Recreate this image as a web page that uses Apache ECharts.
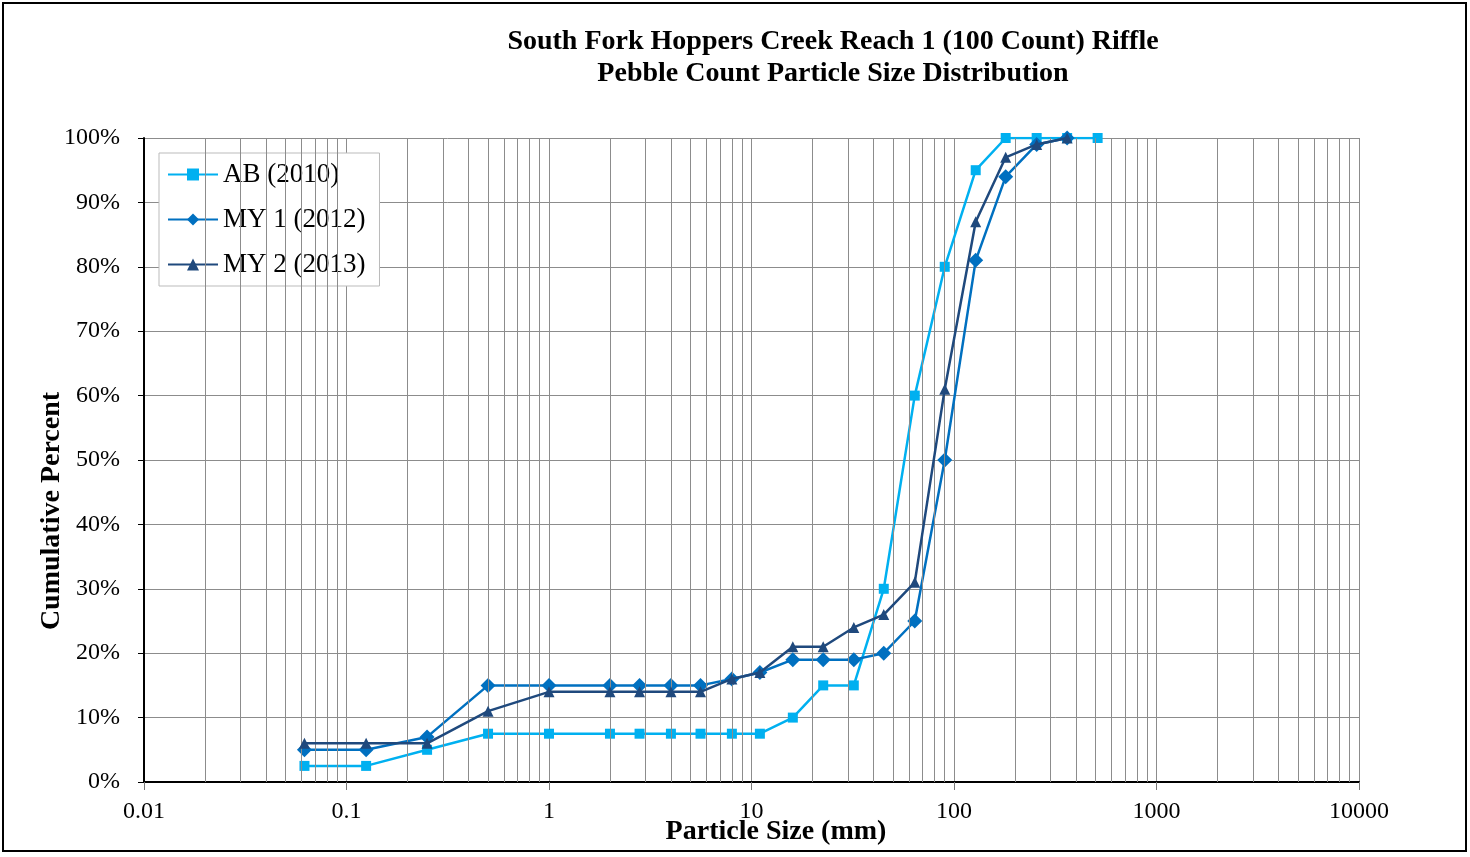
<!DOCTYPE html>
<html>
<head>
<meta charset="utf-8">
<script src="https://cdn.jsdelivr.net/npm/echarts@6/dist/echarts.min.js"></script>
<style>
  html, body { margin: 0; padding: 0; background: #fff; }
  #chart { width: 1470px; height: 857px; }
</style>
</head>
<body>
<div id="chart"></div>
<script>
// particle sizes (mm) and cumulative percents
var sizesAB = [0.062, 0.125, 0.25, 0.5, 1, 2, 2.8, 4, 5.6, 8, 11, 16, 22.6, 32, 45, 64, 90, 128, 180, 256, 362, 512];
var valsAB  = [2.5, 2.5, 5, 7.5, 7.5, 7.5, 7.5, 7.5, 7.5, 7.5, 7.5, 10, 15, 15, 30, 60, 80, 95, 100, 100, 100, 100];

var sizesMY = [0.062, 0.125, 0.25, 0.5, 1, 2, 2.8, 4, 5.6, 8, 11, 16, 22.6, 32, 45, 64, 90, 128, 180, 256, 362];
var valsMY1 = [5, 5, 7, 15, 15, 15, 15, 15, 15, 16, 17, 19, 19, 19, 20, 25, 50, 81, 94, 99, 100];
var valsMY2 = [6, 6, 6, 11, 14, 14, 14, 14, 14, 16, 17, 21, 21, 24, 26, 31, 61, 87, 97, 99, 100];

var xTickLabels = ['0.01', '0.1', '1', '10', '100', '1000', '10000'];

function pairs(xs, ys) {
    return xs.map(function (x, i) { return [x, ys[i]]; });
}

// minor grid lines 2..9 per decade
var minorLines = [];
for (var d = -2; d < 4; d++) {
    for (var m = 2; m < 10; m++) {
        minorLines.push({ xAxis: m * Math.pow(10, d) });
    }
}

var chart = echarts.init(document.getElementById('chart'));
var serif = 'Liberation Serif';

var option = {
    animation: false,
    textStyle: { fontFamily: serif },
    title: {
        text: 'South Fork Hoppers Creek Reach 1 (100 Count) Riffle\nPebble Count Particle Size Distribution',
        left: 828,
        top: 21,
        textAlign: 'center',
        textStyle: { fontFamily: serif, fontSize: 28, fontWeight: 'bold', color: '#000', lineHeight: 32 }
    },
    grid: { left: 144, right: 111, top: 138, bottom: 75 },
    legend: {
        orient: 'vertical',
        left: 159,
        top: 153,
        padding: [8, 14, 8, 8],
        itemGap: 18,
        itemWidth: 50,
        itemHeight: 15,
        borderColor: '#bbb',
        borderWidth: 1,
        backgroundColor: '#fff',
        textStyle: { fontFamily: serif, fontSize: 27, color: '#000' },
        data: ['AB (2010)', 'MY 1 (2012)', 'MY 2 (2013)']
    },
    graphic: [
        { type: 'rect', shape: { x: 3, y: 3, width: 1463, height: 848 }, style: { fill: 'none', stroke: '#000', lineWidth: 2 }, silent: true },
        { type: 'text', x: 52, y: 511, rotation: Math.PI / 2,
          style: { text: 'Cumulative Percent', font: 'bold 28px "Liberation Serif"', fill: '#000', textAlign: 'center', textVerticalAlign: 'middle' } },
        { type: 'text', x: 776, y: 832,
          style: { text: 'Particle Size (mm)', font: 'bold 28px "Liberation Serif"', fill: '#000', textAlign: 'center', textVerticalAlign: 'middle' } }
    ],
    xAxis: {
        type: 'log',
        logBase: 10,
        min: 0.01,
        max: 10000,
        axisLine: { lineStyle: { color: '#000', width: 2 } },
        axisTick: { show: true, length: 8, lineStyle: { color: '#777' } },
        axisLabel: {
            fontFamily: serif, fontSize: 24, color: '#000', margin: 18,
            formatter: function (v) {
                var k = Math.round(Math.log10(v)) + 2;
                return xTickLabels[k] || '';
            }
        },
        splitLine: { show: true, lineStyle: { color: '#8c8c8c', width: 1 } }
    },
    yAxis: {
        type: 'value',
        min: 0,
        max: 100,
        interval: 10,
        axisLine: { show: true, lineStyle: { color: '#000', width: 2 } },
        axisTick: { show: true, length: 6, lineStyle: { color: '#000' } },
        axisLabel: { fontFamily: serif, fontSize: 24, color: '#000', margin: 24, formatter: '{value}%' },
        splitLine: { show: true, lineStyle: { color: '#8c8c8c', width: 1 } }
    },
    series: [
        {
            name: 'grid',
            type: 'line',
            data: [],
            silent: true,
            markLine: {
                silent: true,
                symbol: 'none',
                label: { show: false },
                animation: false,
                lineStyle: { color: '#8c8c8c', type: 'solid', width: 1 },
                data: minorLines
            }
        },
        {
            name: 'AB (2010)',
            type: 'line',
            data: pairs(sizesAB, valsAB),
            symbol: 'rect',
            symbolSize: 10,
            color: '#00B0F0',
            lineStyle: { width: 2.5 },
            z: 3
        },
        {
            name: 'MY 1 (2012)',
            type: 'line',
            data: pairs(sizesMY, valsMY1),
            symbol: 'diamond',
            symbolSize: 15,
            color: '#0070C0',
            lineStyle: { width: 2.5 },
            z: 4
        },
        {
            name: 'MY 2 (2013)',
            type: 'line',
            data: pairs(sizesMY, valsMY2),
            symbol: 'triangle',
            symbolSize: 11,
            color: '#1F497D',
            lineStyle: { width: 2.5 },
            z: 5
        }
    ]
};

chart.setOption(option);
</script>
</body>
</html>
